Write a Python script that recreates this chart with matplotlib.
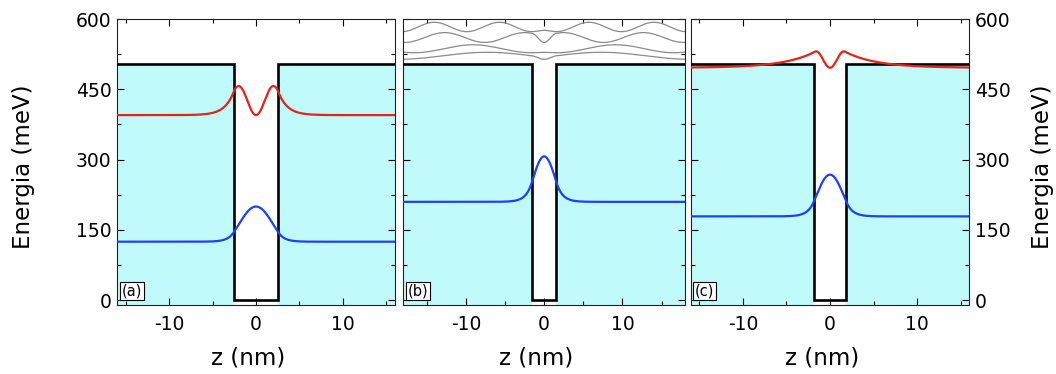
import numpy as np
import matplotlib
matplotlib.use("Agg")
import matplotlib.pyplot as plt
from matplotlib.ticker import MultipleLocator

# ---- panel structure ----
panel_tags = ["(a)", "(b)", "(c)"]
z_half_range = [16, 18, 16]            # nm, half width of the z axis
well_half_width = [2.5, 1.5, 1.85]     # nm
barrier_height = 505.0                 # meV
energy_ticks = [0, 150, 300, 450, 600]

# ---- bound states: level (meV), density peak above level (meV),
#      wavenumber inside the well (1/nm), decay constant in the barrier (1/nm)
ground_level = [125, 210, 179]
ground_peak = [75, 97, 89]
ground_k = [0.40, 0.543, 0.50]
ground_decay = [0.70, 0.65, 0.70]

excited_level = [395, None, 496]
excited_peak = [62, None, 35]
excited_k = [0.785, None, 0.98]
excited_decay = [0.48, None, 0.14]

# ---- states above the barrier, panel (b) ----
free_level = [573, 550, 528, 514]
free_peak = [20, 21, 17, 15]
free_parity = ["even", "odd", "even", "odd"]
free_k_in = [1.0, 0.983, 0.965, 0.95]
free_k_out = [0.378, 0.307, 0.21, 0.1375]

CYAN = "#c0fafa"
RED = "#e3241b"
BLUE = "#1f3fff"
GRAY = "#8a8a8a"

plt.rcParams["font.family"] = ["DejaVu Sans"]
plt.rcParams["axes.unicode_minus"] = False


def bound_density(z, a, k, kappa, parity):
    inner = np.cos(k * z) ** 2 if parity == "even" else np.sin(k * z) ** 2
    edge = np.cos(k * a) ** 2 if parity == "even" else np.sin(k * a) ** 2
    outer = edge * np.exp(-2.0 * kappa * (np.abs(z) - a))
    return np.where(np.abs(z) <= a, inner, outer)


def free_density(z, a, k, q, parity):
    d = np.abs(z) - a
    if parity == "even":
        phi = np.arctan2((k / q) * np.sin(k * a), np.cos(k * a))
        c = np.hypot((k / q) * np.sin(k * a), np.cos(k * a))
        inner = np.cos(k * z)
        outer = c * np.cos(q * d + phi)
    else:
        phi = np.arctan2(np.sin(k * a), (k / q) * np.cos(k * a))
        c = np.hypot(np.sin(k * a), (k / q) * np.cos(k * a))
        inner = np.sin(k * z)
        outer = c * np.sin(q * d + phi)
    psi = np.where(np.abs(z) <= a, inner, outer)
    return psi ** 2 / c ** 2


W, H = 1056, 374
fig = plt.figure(figsize=(W / 100, H / 100), dpi=100)

boxes_px = [(117, 395), (403.3, 685), (690.7, 969.3)]
top_px, bottom_px = 19, 305
ymin, ymax = -10, 600

for i, (x0, x1) in enumerate(boxes_px):
    ax = fig.add_axes([x0 / W, 1 - bottom_px / H, (x1 - x0) / W, (bottom_px - top_px) / H])
    L = z_half_range[i]
    a = well_half_width[i]
    z = np.linspace(-L, L, 4001)

    # barrier regions
    ax.fill_between([-L, -a], ymin, barrier_height, color=CYAN, lw=0, zorder=1)
    ax.fill_between([a, L], ymin, barrier_height, color=CYAN, lw=0, zorder=1)

    # potential profile
    ax.plot([-L, -a, -a, a, a, L],
            [barrier_height, barrier_height, 0, 0, barrier_height, barrier_height],
            color="black", lw=1.9, zorder=3, solid_joinstyle="miter")

    # ground state
    rho = bound_density(z, a, ground_k[i], ground_decay[i], "even")
    ax.plot(z, ground_level[i] + ground_peak[i] * rho, color=BLUE, lw=1.6, zorder=4)

    # first excited state
    if excited_level[i] is not None:
        rho = bound_density(z, a, excited_k[i], excited_decay[i], "odd")
        ax.plot(z, excited_level[i] + excited_peak[i] * rho, color=RED, lw=1.6, zorder=4)

    # states above the barrier
    if i == 1:
        for lev, pk, par, kin, kout in zip(free_level, free_peak, free_parity,
                                           free_k_in, free_k_out):
            rho = free_density(z, a, kin, kout, par)
            ax.plot(z, lev + pk * rho, color=GRAY, lw=0.9, zorder=2)

    ax.set_xlim(-L, L)
    ax.set_ylim(ymin, ymax)
    ax.set_xticks([-10, 0, 10])
    ax.xaxis.set_minor_locator(MultipleLocator(5))
    ax.set_yticks(energy_ticks)
    ax.yaxis.set_minor_locator(MultipleLocator(75))
    ax.tick_params(which="both", direction="in", top=True, right=True,
                   width=0.8, colors="black", labelsize=13.5)
    ax.tick_params(which="major", length=5)
    ax.tick_params(which="minor", length=3)
    ax.tick_params(axis="x", pad=7)
    ax.tick_params(axis="y", pad=4)
    if i == 0:
        ax.tick_params(axis="y", labelleft=True, labelright=False)
    elif i == 1:
        ax.tick_params(axis="y", labelleft=False, labelright=False)
    else:
        ax.tick_params(axis="y", labelleft=False, labelright=True)
    for s in ax.spines.values():
        s.set_linewidth(0.8)
        s.set_color("#222222")

    ax.text(0.016, 0.022, panel_tags[i], transform=ax.transAxes, fontsize=10.5,
            ha="left", va="bottom", zorder=6,
            bbox=dict(boxstyle="square,pad=0.12", fc="white", ec="black", lw=0.8))

    xc = (x0 + x1) / 2 - 8
    fig.text(xc / W, 1 - 358 / H, "z (nm)", fontsize=16.5, ha="center", va="center")

fig.text(24 / W, 1 - 167 / H, "Energia (meV)", fontsize=16.5, rotation=90,
         ha="center", va="center")
fig.text(1043 / W, 1 - 167 / H, "Energia (meV)", fontsize=16.5, rotation=90,
         ha="center", va="center")

fig.savefig("out.png", dpi=100)
